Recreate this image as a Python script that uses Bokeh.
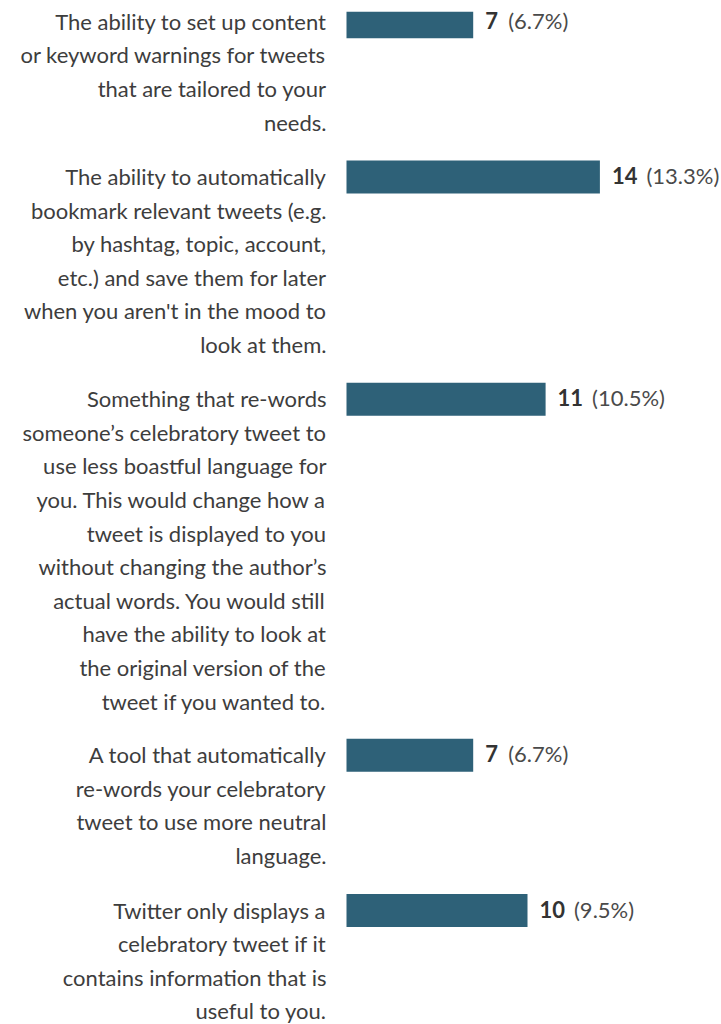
from bokeh.plotting import figure
from bokeh.models import Range1d, ColumnDataSource
from bokeh.embed import file_html
from bokeh.resources import INLINE
from bokeh.core.properties import value

# ---- data ----
labels = [
    "The ability to set up content\nor keyword warnings for tweets\nthat are tailored to your\nneeds.",
    "The ability to automatically\nbookmark relevant tweets (e.g.\nby hashtag, topic, account,\netc.) and save them for later\nwhen you aren't in the mood to\nlook at them.",
    "Something that re-words\nsomeone\u2019s celebratory tweet to\nuse less boastful language for\nyou. This would change how a\ntweet is displayed to you\nwithout changing the author\u2019s\nactual words. You would still\nhave the ability to look at\nthe original version of the\ntweet if you wanted to.",
    "A tool that automatically\nre-words your celebratory\ntweet to use more neutral\nlanguage.",
    "Twitter only displays a\ncelebratory tweet if it\ncontains information that is\nuseful to you.",
]
counts = [7, 14, 11, 7, 10]
percents = ["6.7%", "13.3%", "10.5%", "6.7%", "9.5%"]

# ---- layout (pixels) ----
LINE = 33.6
GAP = 21.5
BAR_H = 33
FIRST_TOP = 4.7
PX_PER_UNIT = 18.1
ZERO_PX = 346
FONT = "Lato"
FS = "22px"

W, H = 721, 1024
TOP_BORDER = 11

tops = []
t = FIRST_TOP
for lab in labels:
    tops.append(t)
    t += len(lab.split("\n")) * 33.45 + GAP

centers = [tp + BAR_H / 2 for tp in tops]

x_start = (0 - ZERO_PX) / PX_PER_UNIT
x_end = (W - ZERO_PX) / PX_PER_UNIT

p = figure(width=W, height=H, output_backend="svg", toolbar_location=None,
           x_range=Range1d(x_start, x_end), y_range=Range1d(H, TOP_BORDER),
           min_border_left=0, min_border_right=0, min_border_top=TOP_BORDER,
           min_border_bottom=0)
p.axis.visible = False
p.grid.visible = False
p.outline_line_color = None
p.background_fill_color = "white"
p.border_fill_color = "white"

bars = ColumnDataSource(dict(y=centers, right=counts))
p.hbar(y="y", left=0, right="right", height=BAR_H, source=bars,
       fill_color="#2e6178", line_color=None)

# category labels, one glyph per line, right aligned
lx, ly, lt = [], [], []
for tp, lab in zip(tops, labels):
    for i, line in enumerate(lab.split("\n")):
        lx.append(0)
        ly.append(tp + 16 + i * LINE)
        lt.append(line)
p.text(x=lx, y=ly, text=lt, x_offset=-20, text_align="right",
       text_baseline="alphabetic", text_font=value(FONT), text_font_size=FS,
       text_color="#3d3d3d")

# value labels
cnt_txt = [str(c) for c in counts]
vy = [c - 1.5 for c in centers]
p.text(x=counts, y=vy, text=cnt_txt, x_offset=12, text_align="left",
       text_baseline="alphabetic", text_font=value(FONT), text_font_size=FS,
       text_font_style="bold", text_color="#333333")
pct_off = [12 + 11.5 * len(s) + 11.5 for s in cnt_txt]
pct_txt = ["(" + s + ")" for s in percents]
src = ColumnDataSource(dict(x=counts, y=vy, text=pct_txt, xo=pct_off))
p.text(x="x", y="y", text="text", x_offset="xo", source=src, text_align="left",
       text_baseline="alphabetic", text_font=value(FONT), text_font_size=FS,
       text_color="#4a4a4a")

open("out.html", "w").write(file_html(p, INLINE))
